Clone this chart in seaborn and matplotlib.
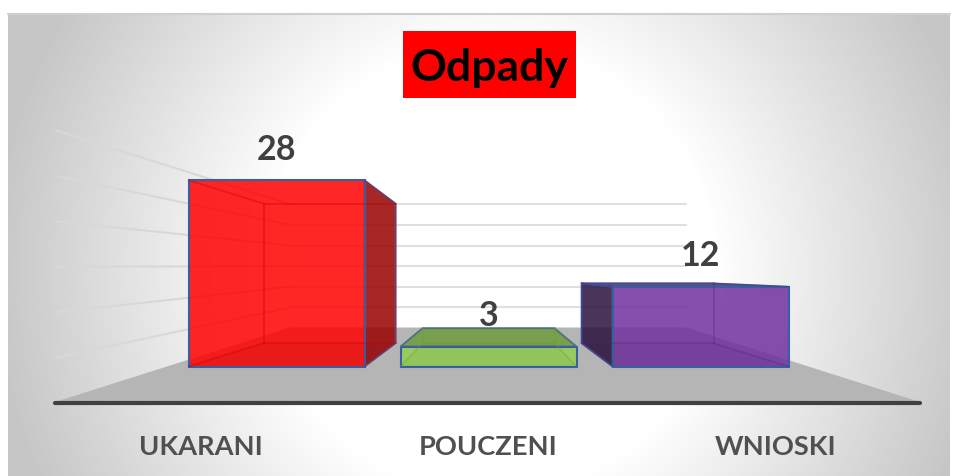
import numpy as np
import pandas as pd
import matplotlib.pyplot as plt
from matplotlib.colors import to_rgb, LinearSegmentedColormap
from matplotlib.patches import Polygon, Rectangle
import seaborn as sns

# data
categories = ['UKARANI', 'POUCZENI', 'WNIOSKI']
values = [28, 3, 12]
bar_colors = ['#FF0000', '#92D050', '#7030A0']
grid_ticks = [5, 10, 15, 20, 25, 30]

W, H = 957, 477
PX_X = 212.0   # pixels per category
PX_Y = 6.65    # pixels per unit
X0, Y0 = 276.5, 367.5   # pixel of category 0 / value 0
VP = (1.0, 14.0)        # vanishing point, data coords
DEPTH = 0.75            # bar back face scale
EDGE = '#3A5F9F'
ALPHA = 0.85

def back(x, y, k=DEPTH):
    return (VP[0] + (x - VP[0]) * k, VP[1] + (y - VP[1]) * k)

def dx(px):
    return (px - X0) / PX_X

def dy(py):
    return (Y0 - py) / PX_Y

def shade(color, k):
    r, g, b = to_rgb(color)
    return (r * k, g * k, b * k, ALPHA)

sns.set_theme(style='white')
plt.rcParams['font.family'] = ['Lato', 'DejaVu Sans']

fig = plt.figure(figsize=(W / 100, H / 100), dpi=100, facecolor='white')

# background panel with radial gradient
bg = fig.add_axes([8 / W, 0, 942 / W, 462 / H])
xx, yy = np.meshgrid(np.arange(8, 950), np.arange(15, 477))
r = np.hypot(xx - 490, yy - 270)
t = np.clip((r - 225) / (500 - 225), 0, 1)
cmap = LinearSegmentedColormap.from_list('panel', ['#FFFFFF', '#C6C6C6'])
bg.imshow(t, cmap=cmap, vmin=0, vmax=1, aspect='auto')
bg.axis('off')
fig.add_artist(plt.Line2D([8 / W, 950 / W], [1 - 15 / H, 1 - 15 / H], color='#CFCFCF', lw=1.5))

# main axes, bottom spine is the thick floor line
ax = fig.add_axes([55 / W, 1 - 403.5 / H, (920 - 55) / W, 403.5 / H])
ax.patch.set_alpha(0)

df = pd.DataFrame({'kategoria': categories, 'wartosc': values})
sns.barplot(data=df, x='kategoria', y='wartosc', hue='kategoria', hue_order=categories,
            palette=bar_colors, saturation=1, width=176 / PX_X, legend=False, ax=ax, zorder=5)

ax.set_xlim(dx(55), dx(920))
ax.set_ylim(dy(403.5), dy(0))
ax.set_xlabel('')
ax.set_ylabel('')
ax.set_yticks([])
# labels sit on the front edge of the floor, wider apart than the bars
ax.set_xticks([VP[0] + (i - 1) * 1.355 for i in range(len(categories))], categories)
ax.tick_params(axis='x', length=0, pad=23, labelsize=19.6, labelcolor='#505050')
for lab in ax.get_xticklabels():
    lab.set_fontweight('bold')
for s in ['top', 'left', 'right']:
    ax.spines[s].set_visible(False)
ax.spines['bottom'].set_linewidth(3)
ax.spines['bottom'].set_color('#404040')
ax.spines['bottom'].set_capstyle('round')

# floor
floor = [(dx(55), dy(403)), (dx(290), dy(328.5)), (dx(686), dy(328.5)), (dx(920), dy(403))]
ax.add_patch(Polygon(floor, closed=True, fc='#B5B5B5', ec='none', zorder=1))

# gridlines on back wall and left wall
for v in grid_ticks:
    wall_y = dy(329) + v * 0.62
    ax.plot([dx(290), dx(686)], [wall_y, wall_y], color='#E0E0E0', lw=1.5, zorder=1.5)
    ax.plot([dx(55), dx(290)], [15 + 1.37 * (v - 15), wall_y], color='#D8D8D8', lw=1.5, zorder=1.5)

# 3d faces for each bar
for bar_set, col in zip(ax.containers, bar_colors):
    bar = bar_set[0]
    x0, x1 = bar.get_x(), bar.get_x() + bar.get_width()
    h = bar.get_height()
    fl, fr = (x0, 0), (x1, 0)
    tl, tr = (x0, h), (x1, h)
    bl, br = back(*fl), back(*fr)
    ul, ur = back(*tl), back(*tr)

    # outer side, only where it sticks out of the front face
    if x1 < VP[0] and br[0] > x1:
        ax.add_patch(Polygon([fr, br, ur, tr], fc=shade(col, 0.6), ec=EDGE, lw=1.2, zorder=3))
    if x0 > VP[0] and bl[0] < x0:
        ax.add_patch(Polygon([fl, bl, ul, tl], fc=shade(col, 0.38), ec=EDGE, lw=1.2, zorder=3))
    if h < VP[1]:
        ax.add_patch(Polygon([tl, tr, ur, ul], fc=shade(col, 0.75), ec=EDGE, lw=1.2, zorder=3.5))

    # front face
    bar.set_facecolor((*to_rgb(col), ALPHA))
    bar.set_edgecolor(EDGE)
    bar.set_linewidth(1.5)

    # box floor seen through the front
    ax.add_patch(Polygon([fl, fr, br, bl], fc=(0, 0, 0, 0.03), ec='none', zorder=5.5))

    # inner edges that show through
    inner = (*np.array(to_rgb(col)) * 0.75, 0.35)
    for a, b in [(bl, br), (br, ur), (ur, ul), (ul, bl), (fl, bl), (fr, br), (tl, ul), (tr, ur)]:
        ax.plot([a[0], b[0]], [a[1], b[1]], color=inner, lw=1.2, zorder=6)

    ax.bar_label(bar_set, fmt='%d', padding=11, fontsize=24.5, fontweight='bold', color='#404040', zorder=7)

# title box
fig.patches.append(Rectangle((403 / W, 1 - 98.5 / H), 173 / W, 67 / H, transform=fig.transFigure,
                             fc='#FF0000', ec='none', figure=fig))
fig.text(489.5 / W, 1 - 67.5 / H, 'Odpady', ha='center', va='center', fontsize=32,
         fontweight='bold', color='#000000')

fig.savefig('out.png', dpi=100)
